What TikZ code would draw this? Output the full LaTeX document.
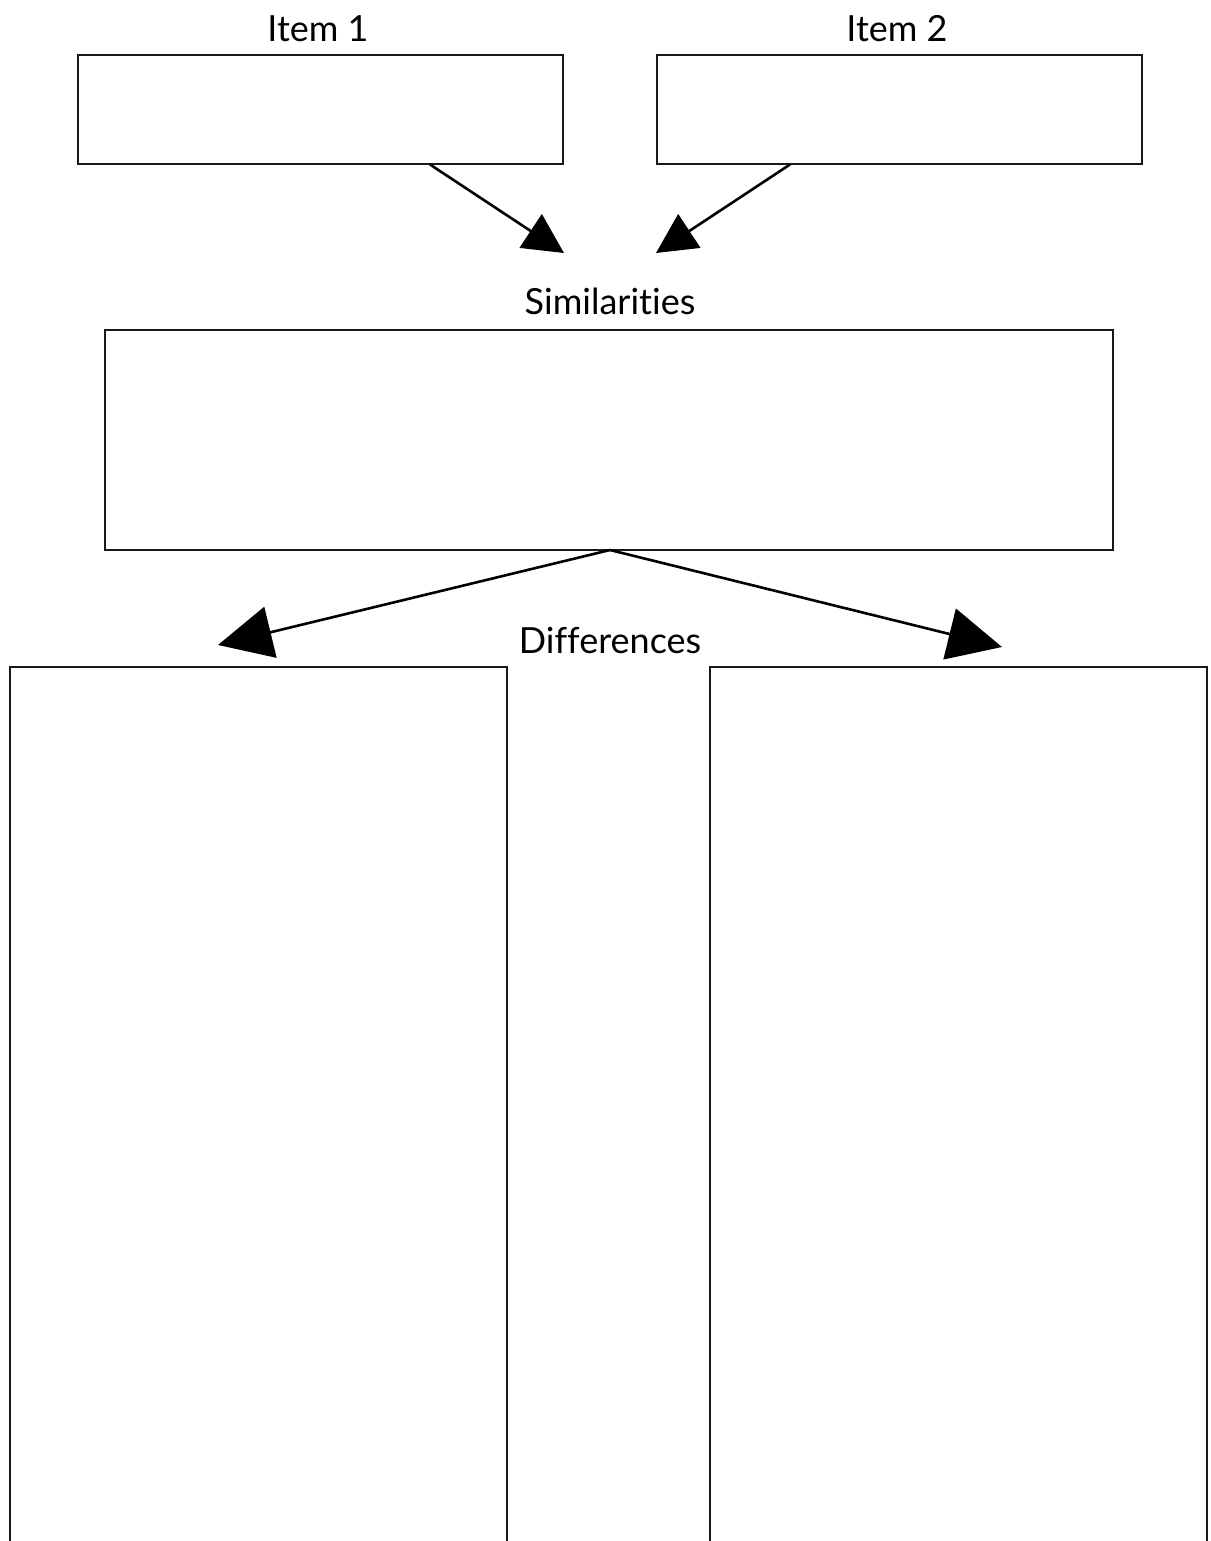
\documentclass[tikz,border=0pt]{standalone}
\usepackage{fontspec}
\setmainfont[Ligatures=NoCommon]{Lato}
\usetikzlibrary{arrows.meta}
\begin{document}
\begin{tikzpicture}[x=0.5pt,y=-0.5pt,
  box/.style={draw=black!90, line width=1.35pt, inner sep=0pt, outer sep=0pt, fill=none},
  lbl/.style={font=\fontsize{18}{20}\selectfont, inner sep=0pt, anchor=base},
  smallarr/.style={line width=1.3pt, -{Triangle[length=20pt,width=20pt]}},
  bigarr/.style={line width=1.3pt, -{Triangle[length=27pt,width=26pt]}}]
\useasboundingbox (0,0) rectangle (1210,1541);
\clip (0,0) rectangle (1210,1541);
% boxes
\node[box, minimum width=242.5pt, minimum height=54.5pt] (item1) at (320.5,109.5) {};
\node[box, minimum width=242.5pt, minimum height=54.5pt] (item2) at (899.5,109.5) {};
\node[box, minimum width=504pt, minimum height=110pt] (sim) at (609,440) {};
\node[box, minimum width=248.5pt, minimum height=460pt] (dleft) at (258.5,1127) {};
\node[box, minimum width=248.5pt, minimum height=460pt] (dright) at (958.5,1127) {};
% labels
\node[lbl] (t1) at (318,42) {Item 1};
\node[lbl] (t2) at (897,42) {Item 2};
\node[lbl] (tsim) at (610,314) {Similarities};
\node[lbl] (tdiff) at (610,653) {Differences};
% connector ends
\coordinate (s1) at (430,164.5);
\coordinate (s2) at (790,164.5);
\coordinate (s3) at (610,550);
\coordinate (e1) at (564,253);
\coordinate (e2) at (656,253);
\coordinate (e3) at (218,645);
\coordinate (e4) at (1002,647);
\draw[smallarr] (s1) -- (e1);
\draw[smallarr] (s2) -- (e2);
\draw[bigarr] (s3) -- (e3);
\draw[bigarr] (s3) -- (e4);
\end{tikzpicture}
\end{document}
